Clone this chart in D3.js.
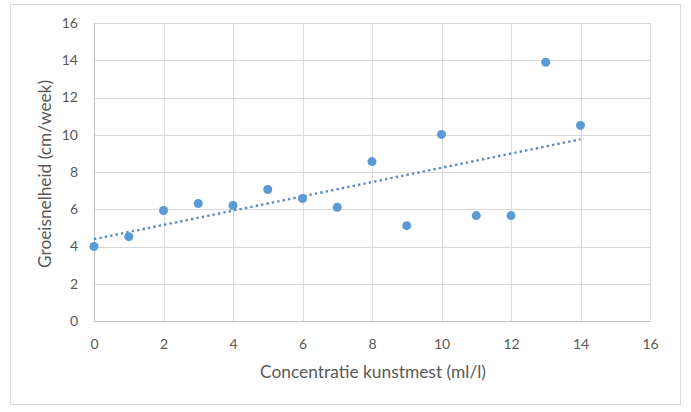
<!DOCTYPE html>
<html>
<head>
<meta charset="utf-8">
<script src="https://cdn.jsdelivr.net/npm/d3@7"></script>
<style>
  html, body { margin: 0; padding: 0; background: #fff; }
  svg { display: block; }
  text { font-family: Lato, "Open Sans", sans-serif; fill: #595959; }
</style>
</head>
<body>
<svg id="chart" width="691" height="412"></svg>
<script>
// Data
const concentration = [0, 1, 2, 3, 4, 5, 6, 7, 8, 9, 10, 11, 12, 13, 14];
const growthRate = [4.0, 4.53, 5.93, 6.31, 6.2, 7.06, 6.58, 6.11, 8.56, 5.12, 10.02, 5.66, 5.66, 13.89, 10.5];
const xTicks = [0, 2, 4, 6, 8, 10, 12, 14, 16];
const yTicks = [0, 2, 4, 6, 8, 10, 12, 14, 16];
const xTitle = "Concentratie kunstmest (ml/l)";
const yTitle = "Groeisnelheid (cm/week)";

const svg = d3.select("#chart");
const plot = { left: 94, right: 650, top: 23, bottom: 321 };

// chart border
svg.append("rect")
  .attr("x", 10.5).attr("y", 4.5)
  .attr("width", 670).attr("height", 400)
  .attr("fill", "#fff").attr("stroke", "#d9d9d9").attr("stroke-width", 1);

const x = d3.scaleLinear().domain([0, 16]).range([plot.left, plot.right]);
const y = d3.scaleLinear().domain([0, 16]).range([plot.bottom, plot.top]);

// gridlines
const grid = svg.append("g");
grid.selectAll("line.h").data(yTicks).join("line")
  .attr("x1", plot.left).attr("x2", plot.right)
  .attr("y1", d => Math.round(y(d)) + 0.5).attr("y2", d => Math.round(y(d)) + 0.5)
  .attr("stroke", "#d9d9d9").attr("stroke-width", 1);
grid.selectAll("line.v").data(xTicks).join("line")
  .attr("y1", plot.top).attr("y2", plot.bottom)
  .attr("x1", d => Math.round(x(d)) + 0.5).attr("x2", d => Math.round(x(d)) + 0.5)
  .attr("stroke", "#d9d9d9").attr("stroke-width", 1);

// axes (labels only)
const xAxis = svg.append("g")
  .attr("transform", `translate(0,${plot.bottom})`)
  .call(d3.axisBottom(x).tickValues(xTicks).tickSize(0).tickPadding(18).tickFormat(d3.format("d")));
xAxis.select(".domain").attr("stroke", "#bfbfbf");
xAxis.selectAll("text").style("font-size", "14px").attr("fill", "#595959");

const yAxis = svg.append("g")
  .attr("transform", `translate(${plot.left},0)`)
  .call(d3.axisLeft(y).tickValues(yTicks).tickSize(0).tickPadding(16).tickFormat(d3.format("d")));
yAxis.select(".domain").attr("stroke", "#bfbfbf");
yAxis.selectAll("text").style("font-size", "14px").attr("fill", "#595959");

// linear trendline (least squares from the data)
const n = concentration.length;
const mx = d3.mean(concentration), my = d3.mean(growthRate);
let sxy = 0, sxx = 0;
for (let i = 0; i < n; i++) {
  sxy += (concentration[i] - mx) * (growthRate[i] - my);
  sxx += (concentration[i] - mx) ** 2;
}
const slope = sxy / sxx, intercept = my - slope * mx;
const xExt = d3.extent(concentration);
svg.append("line")
  .attr("x1", x(xExt[0])).attr("y1", y(intercept + slope * xExt[0]))
  .attr("x2", x(xExt[1])).attr("y2", y(intercept + slope * xExt[1]))
  .attr("stroke", "#5a8cc2").attr("stroke-width", 2.4)
  .attr("stroke-dasharray", "2.4,3.1");

// points
svg.append("g").selectAll("circle")
  .data(concentration.map((c, i) => [c, growthRate[i]]))
  .join("circle")
  .attr("cx", d => x(d[0])).attr("cy", d => y(d[1]))
  .attr("r", 4.5).attr("fill", "#5b9bd5");

// titles, sized to the reference widths
function fit(sel, target) {
  const base = 16;
  sel.style("font-size", base + "px");
  const w = sel.node().getComputedTextLength();
  sel.style("font-size", (base * target / w).toFixed(2) + "px");
}
const xt = svg.append("text")
  .attr("x", 373).attr("y", 378)
  .attr("text-anchor", "middle")
  .text(xTitle);
fit(xt, 226);

const yt = svg.append("text")
  .attr("transform", `translate(51,174) rotate(-90)`)
  .attr("text-anchor", "middle")
  .text(yTitle);
fit(yt, 188);
</script>
</body>
</html>
